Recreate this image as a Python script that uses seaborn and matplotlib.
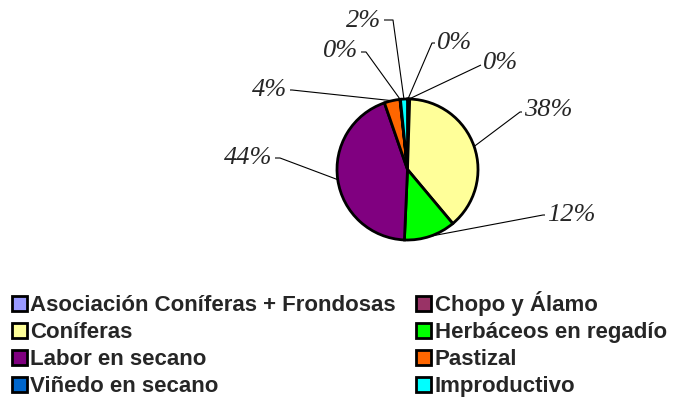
import numpy as np
import matplotlib.pyplot as plt
import seaborn as sns

# superficie por uso del suelo (%)
categorias = ['Asociación Coníferas + Frondosas', 'Chopo y Álamo', 'Coníferas',
              'Herbáceos en regadío', 'Labor en secano', 'Pastizal',
              'Viñedo en secano', 'Improductivo']
porcentajes = [0.2, 0.3, 38.4, 11.8, 44.0, 3.6, 0.1, 1.6]
colores = ['#9999FF', '#993366', '#FFFF99', '#00FF00', '#800080', '#FF6600',
           '#0066CC', '#00FFFF']

sns.set_theme(style='white')
plt.rcParams['font.family'] = ['Liberation Sans', 'DejaVu Sans']

W, H = 677, 403
fig = plt.figure(figsize=(W / 100, H / 100), dpi=100)
ax = fig.add_axes([0, 0, 1, 1])

cx, cy, r = 407.5, H - 169.5, 70.5
wedges, _ = ax.pie(porcentajes, colors=sns.color_palette(colores), startangle=90,
                   counterclock=False, center=(cx, cy), radius=r,
                   wedgeprops=dict(edgecolor='black', linewidth=2))
ax.set_xlim(0, W)
ax.set_ylim(0, H)
ax.set_aspect('equal')
ax.axis('off')

# label layout (image pixel coords): elbow of leader line, text anchor, alignment
codos = [(432, 43), (481, 65), (520, 112), (543, 215),
         (280, 158), (292, 90), (366, 52), (393, 20)]
textos = [(437, 43), (483, 63), (524, 110), (547, 215),
          (272, 158), (287, 90), (358, 51), (381, 21)]
alinear = ['left', 'left', 'left', 'left', 'right', 'right', 'right', 'right']

for w, p, (ex, ey), (tx, ty), ha in zip(wedges, porcentajes, codos, textos, alinear):
    ang = np.deg2rad((w.theta1 + w.theta2) / 2)
    sx, sy = cx + r * np.cos(ang), cy + r * np.sin(ang)
    fin = tx - 2 if ha == 'left' else tx + 3
    ax.plot([sx, ex, fin], [sy, H - ey, H - ey], color='black', lw=0.8,
            solid_capstyle='butt', zorder=0)
    ax.text(tx, H - ty, f'{p:.0f}%', ha=ha, va='center', fontsize=19,
            style='italic', family='Liberation Serif')

orden = [0, 2, 4, 6, 1, 3, 5, 7]
fig.legend(handles=[wedges[i] for i in orden], labels=[categorias[i] for i in orden],
           ncol=2, loc='upper left', bbox_to_anchor=(12 / W, (H - 291) / H),
           frameon=False, prop=dict(weight='bold', size=16),
           handlelength=0.68, handleheight=0.68, handletextpad=0.15,
           columnspacing=0.9, labelspacing=0.27, borderpad=0, borderaxespad=0)

fig.savefig('out.png', dpi=100)
